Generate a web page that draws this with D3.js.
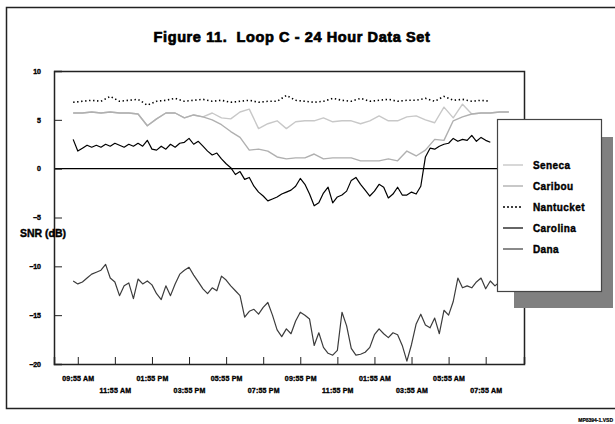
<!DOCTYPE html>
<html>
<head>
<meta charset="utf-8">
<script src="https://cdn.jsdelivr.net/npm/d3@7/dist/d3.min.js"></script>
<style>
  html, body { margin: 0; padding: 0; background: #fff; }
  svg { display: block; }
  text { font-family: "Liberation Sans", Arial, Helvetica, sans-serif; font-weight: bold; fill: #000;
         stroke: #000; paint-order: stroke; white-space: pre; }
</style>
</head>
<body>
<svg id="chart" width="615" height="424"></svg>
<script>
// Minutes after 09:55 AM for each labelled tick (every two hours)
const tickMinutes = [0, 120, 240, 360, 480, 600, 720, 840, 960, 1080, 1200, 1320];
const tickLabels = ["09:55 AM", "11:55 AM", "01:55 PM", "03:55 PM", "05:55 PM", "07:55 PM",
                    "09:55 PM", "11:55 PM", "01:55 AM", "03:55 AM", "05:55 AM", "07:55 AM"];
const yTicks = [10, 5, 0, -5, -10, -15, -20];

const seriesNames = ["Seneca", "Caribou", "Nantucket", "Carolina", "Dana"];

// SNR samples (dB); first sample at 09:40 AM
const senecaValues = [5.7, 5.7, 5.8, 5.7, 5.8, 5.7, 5.7, 5.6, 4.4, 5.1, 5.7, 5.7, 5.2, 5.5, 5.3, 5.7,
  5.2, 5.1, 5.8, 6.1, 4.1, 4.6, 4.9, 4.1, 4.8, 4.9, 4.9, 5.2, 4.8, 4.9, 4.9, 4.6,
  4.9, 5.4, 4.9, 4.9, 5.3, 5.4, 5.0, 4.7, 6.3, 5.2, 6.6, 5.6, 5.7, 5.7, 5.8, 5.8];
const caribouValues = [5.7, 5.7, 5.8, 5.7, 5.8, 5.7, 5.7, 5.6, 4.4, 5.1, 5.7, 5.7, 5.2, 5.5, 5.3, 5.0,
  4.5, 3.8, 3.2, 1.9, 2.0, 1.8, 1.2, 1.0, 1.1, 1.1, 1.5, 1.0, 1.1, 1.1, 1.1, 0.8,
  0.8, 0.8, 1.0, 0.8, 1.8, 1.3, 1.9, 3.0, 2.9, 4.9, 5.3, 5.6, 5.7, 5.7, 5.8, 5.8];
const nantucketValues = [6.8, 6.9, 7.0, 6.9, 7.4, 6.9, 7.0, 7.1, 6.5, 6.9, 7.0, 7.2, 6.9, 7.0, 7.1, 6.9,
  7.0, 6.8, 6.9, 7.0, 6.8, 6.9, 6.9, 7.5, 7.0, 6.9, 6.8, 6.9, 7.2, 7.0, 6.9, 7.2,
  6.9, 7.0, 7.1, 6.9, 7.0, 7.0, 7.2, 6.9, 7.4, 7.0, 7.1, 6.9, 7.0, 6.9];
const carolinaValues = [3.0, 1.8, 2.1, 2.4, 2.2, 2.4, 2.2, 2.5, 2.3, 2.6, 2.4, 2.2, 2.5, 2.3, 2.6, 2.3,
  2.9, 2.0, 1.9, 2.3, 2.0, 2.5, 2.2, 2.6, 2.7, 3.1, 2.5, 2.8, 2.3, 1.8, 1.4, 1.6,
  1.0, 0.5, 0.1, -0.6, -0.3, -1.1, -0.9, -1.8, -2.4, -2.8, -3.3, -3.1, -2.9, -2.6, -2.4, -2.2,
  -1.8, -1.0, -1.6, -2.6, -3.8, -3.5, -2.5, -1.9, -3.5, -2.9, -2.7, -2.3, -1.2, -0.9, -1.6, -2.2,
  -2.8, -2.3, -1.6, -1.9, -3.0, -2.6, -1.9, -2.7, -2.7, -2.4, -2.6, -1.8, 1.2, 2.1, 2.0, 2.3,
  2.5, 2.6, 3.1, 2.8, 3.0, 2.9, 3.4, 2.8, 3.2, 2.9, 2.7];
const danaValues = [-11.5, -11.8, -11.6, -11.2, -10.8, -10.6, -10.4, -9.8, -11.2, -11.6, -13.0, -12.0, -11.7, -13.3, -11.3, -11.8,
  -11.5, -11.9, -12.8, -13.4, -12.0, -13.0, -11.8, -10.8, -10.4, -10.1, -10.9, -11.6, -12.3, -12.8, -12.2, -12.5,
  -11.0, -11.4, -12.0, -12.5, -13.0, -15.2, -14.6, -14.4, -14.9, -14.2, -13.7, -15.0, -16.5, -17.2, -16.4, -16.9,
  -15.6, -14.7, -15.0, -15.4, -18.1, -16.8, -18.3, -18.9, -19.1, -18.6, -14.7, -16.1, -18.4, -19.1, -19.0, -18.8,
  -18.3, -17.0, -16.4, -16.9, -17.3, -16.8, -17.0, -18.1, -19.7, -18.0, -15.9, -14.9, -16.0, -16.3, -15.3, -16.9,
  -14.5, -15.0, -13.6, -11.2, -12.2, -12.0, -12.2, -11.6, -11.2, -12.3, -11.5, -12.0, -11.6, -11.8, -11.4];

const series = [
  { name: "Seneca",    values: senecaValues,    start: -15, step: 30, color: "#c8c8c8", width: 1.4, dash: null },
  { name: "Caribou",   values: caribouValues,   start: -15, step: 30, color: "#b0b0b0", width: 1.4, dash: null },
  { name: "Nantucket", values: nantucketValues, start: -15, step: 30, color: "#000000", width: 1.6, dash: "1.4,2.6" },
  { name: "Carolina",  values: carolinaValues,  start: -15, step: 15, color: "#000000", width: 1.2, dash: null },
  { name: "Dana",      values: danaValues,      start: -15, step: 15, color: "#3c3c3c", width: 1.2, dash: null }
];

const svg = d3.select("#chart");

// Page frame
svg.append("path")
  .attr("d", "M615,7.5 H6.5 V408.5 H615")
  .attr("fill", "none").attr("stroke", "#222").attr("stroke-width", 1.5);

// Title
svg.append("text")
  .attr("x", 292).attr("y", 42)
  .attr("text-anchor", "middle")
  .style("font-size", "14.5px")
  .style("letter-spacing", "0.6px")
  .style("stroke-width", "0.7px")
  .text("Figure 11.  Loop C - 24 Hour Data Set");

// Plot area
const plot = { left: 54, right: 524, top: 71, bottom: 364 };
const x = d3.scaleLinear().domain([-77, 1444]).range([plot.left, plot.right]);
const y = d3.scaleLinear().domain([-20, 10]).range([plot.bottom, plot.top]);

// Zero reference line
svg.append("line")
  .attr("x1", plot.left).attr("x2", plot.right)
  .attr("y1", y(0)).attr("y2", y(0))
  .attr("stroke", "#000").attr("stroke-width", 1.2);

// Series lines
const line = d3.line().curve(d3.curveLinear);
series.forEach(s => {
  const pts = s.values.map((v, i) => [x(s.start + i * s.step), y(v)]);
  const p = svg.append("path")
    .attr("d", line(pts))
    .attr("fill", "none")
    .attr("stroke", s.color)
    .attr("stroke-width", s.width)
    .attr("stroke-linejoin", "round");
  if (s.dash) p.attr("stroke-dasharray", s.dash);
});

// Plot border (top and right)
svg.append("path")
  .attr("d", `M${plot.left},${plot.top + 0.5} H${plot.right + 0.5} V${plot.bottom}`)
  .attr("fill", "none").attr("stroke", "#222").attr("stroke-width", 1.5);

const tickFont = sel => sel
  .style("font-size", "7px")
  .style("font-family", "'Liberation Sans', Arial, sans-serif")
  .style("font-weight", "bold")
  .style("stroke", "#000")
  .style("stroke-width", "0.35px");

// Y axis with inward ticks
const yAxis = d3.axisLeft(y).tickValues(yTicks).tickSize(-8).tickPadding(13)
  .tickFormat(d3.format("d"));
const gy = svg.append("g").attr("transform", `translate(${plot.left},0)`).call(yAxis);
gy.select(".domain").attr("stroke", "#222").attr("stroke-width", 1.5);
gy.selectAll(".tick line").attr("stroke", "#222").attr("stroke-width", 1);
gy.selectAll(".tick text").call(tickFont);

// X axis with inward ticks, labels staggered on two rows
const xAxis = d3.axisBottom(x).tickValues(tickMinutes).tickSize(-7).tickPadding(13)
  .tickFormat((d, i) => tickLabels[i]);
const gx = svg.append("g").attr("transform", `translate(0,${plot.bottom})`).call(xAxis);
gx.select(".domain").attr("stroke", "#222").attr("stroke-width", 1.5);
gx.selectAll(".tick line").attr("stroke", "#222").attr("stroke-width", 1);
gx.selectAll(".tick text").call(tickFont)
  .style("letter-spacing", "0.2px")
  .attr("y", (d, i) => i % 2 === 0 ? 12 : 24);

// Axis title
svg.append("text")
  .attr("x", 20).attr("y", 237)
  .style("font-size", "10.5px")
  .style("stroke-width", "0.4px")
  .text("SNR (dB)");

// Legend with drop shadow
const legend = { x: 497, y: 119, w: 104, h: 172 };
svg.append("rect")
  .attr("x", legend.x + 17).attr("y", legend.y + 18)
  .attr("width", legend.w - 5).attr("height", legend.h - 1)
  .attr("fill", "#808080");
svg.append("rect")
  .attr("x", legend.x + 0.5).attr("y", legend.y + 0.5)
  .attr("width", legend.w).attr("height", legend.h)
  .attr("fill", "#fff").attr("stroke", "#444").attr("stroke-width", 1.2);

const legendRows = [165, 186, 207, 228, 249];
series.forEach((s, i) => {
  const ly = legendRows[i];
  const l = svg.append("line")
    .attr("x1", 503).attr("x2", 523)
    .attr("y1", ly).attr("y2", ly)
    .attr("stroke", s.color).attr("stroke-width", s.width);
  if (s.dash) l.attr("stroke-dasharray", "2,2");
  svg.append("text")
    .attr("x", 533).attr("y", ly + 3.5)
    .style("font-size", "10px")
    .style("letter-spacing", "0.4px")
    .style("stroke-width", "0.4px")
    .text(seriesNames[i]);
});

// Drawing reference
svg.append("text")
  .attr("x", 613).attr("y", 422)
  .attr("text-anchor", "end")
  .style("font-size", "5px")
  .style("stroke-width", "0.2px")
  .text("MP8394-1.VSD");
</script>
</body>
</html>
